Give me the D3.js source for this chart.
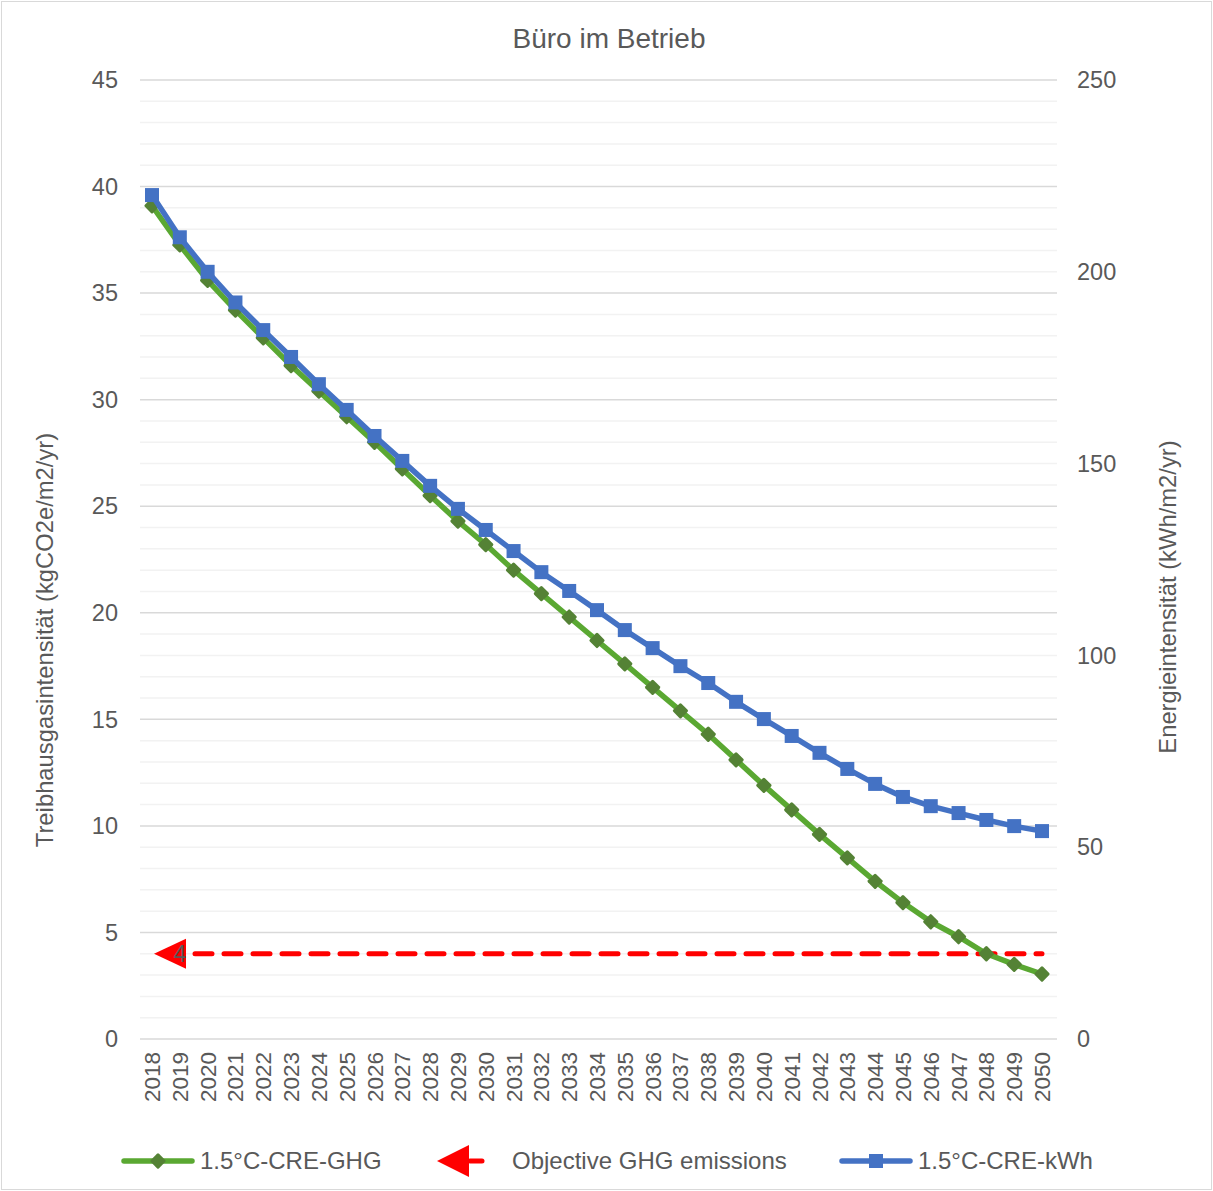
<!DOCTYPE html>
<html><head><meta charset="utf-8">
<script src="https://cdn.jsdelivr.net/npm/d3@7"></script>
<style>body{margin:0;background:#fff;} text{font-family:"Liberation Sans",Arial,sans-serif;fill:#595959;}</style>
</head><body><svg id="c" width="1213" height="1191"></svg>
<script>
const years = d3.range(2018, 2051);
const ghg = [39.1,37.26,35.6,34.2,32.9,31.6,30.4,29.2,28.0,26.75,25.5,24.3,23.2,22.0,20.9,19.8,18.7,17.6,16.5,15.4,14.3,13.1,11.9,10.75,9.6,8.5,7.4,6.4,5.5,4.8,4.0,3.5,3.05];
const kwh = [220,209,200,192,184.8,177.8,170.7,164,157.2,150.7,144.2,138.2,132.7,127.2,121.7,116.8,111.8,106.6,101.9,97.2,92.8,87.9,83.4,79.0,74.6,70.4,66.5,63.1,60.7,58.9,57.1,55.5,54.2];
const objective = 4;
const leftTicks = [0,5,10,15,20,25,30,35,40,45];
const rightTicks = [0,50,100,150,200,250];
const title = "Büro im Betrieb";
const leftLabel = "Treibhausgasintensität (kgCO2e/m2/yr)";
const rightLabel = "Energieintensität (kWh/m2/yr)";
const legendNames = ["1.5°C-CRE-GHG","Objective GHG emissions","1.5°C-CRE-kWh"];

const svg = d3.select("#c");
svg.append("rect").attr("x",1.5).attr("y",1.5).attr("width",1210).attr("height",1188).attr("fill","#fff").attr("stroke","#d9d9d9");
const L=140,R=1057,T=80,B=1039;
const x = d3.scalePoint().domain(years).range([152,1042]);
const yl = d3.scaleLinear().domain([0,45]).range([B,T]);
const yr = d3.scaleLinear().domain([0,250]).range([B,T]);

const g = svg.append("g");
g.selectAll("line.mi").data(d3.range(0,46,1).filter(v=>v%5!==0)).enter().append("line")
 .attr("x1",L).attr("x2",R).attr("y1",d=>yl(d)).attr("y2",d=>yl(d)).attr("stroke","#f2f2f2").attr("stroke-width",1.5);
g.selectAll("line.ma").data(leftTicks).enter().append("line")
 .attr("x1",L).attr("x2",R).attr("y1",d=>yl(d)).attr("y2",d=>yl(d)).attr("stroke","#d9d9d9").attr("stroke-width",1.5);

svg.append("g").selectAll("text").data(leftTicks).enter().append("text")
 .attr("x",118).attr("y",d=>yl(d)).attr("dy","0.35em").attr("text-anchor","end").attr("font-size",23.5).text(d=>d);
svg.append("g").selectAll("text").data(rightTicks).enter().append("text")
 .attr("x",1077).attr("y",d=>yr(d)).attr("dy","0.35em").attr("text-anchor","start").attr("font-size",23.5).text(d=>d);
svg.append("g").selectAll("text").data(years).enter().append("text")
 .attr("transform",d=>`translate(${x(d)+8},1052) rotate(-90)`).attr("text-anchor","end").attr("font-size",22.5).text(d=>d);

svg.append("text").attr("x",609).attr("y",48).attr("text-anchor","middle").attr("font-size",28).text(title);
svg.append("text").attr("transform","translate(53,640) rotate(-90)").attr("text-anchor","middle").attr("font-size",23.8).text(leftLabel);
svg.append("text").attr("transform","translate(1176,597) rotate(-90)").attr("text-anchor","middle").attr("font-size",23.8).text(rightLabel);

svg.append("line").attr("x1",x(2018)+14).attr("x2",x(2050)).attr("y1",yl(objective)).attr("y2",yl(objective))
 .attr("stroke","#ff0000").attr("stroke-width",5).attr("stroke-dasharray","17,12").attr("stroke-linecap","round");
const ax=x(2018)+2, ay=yl(objective);
svg.append("path").attr("d",`M${ax},${ay} L${ax+32},${ay-15} L${ax+32},${ay+15} Z`).attr("fill","#ff0000");
svg.append("text").attr("x",x(2018)+28).attr("y",ay).attr("dy","0.35em").attr("text-anchor","middle").attr("font-size",23).text(objective);

const lineL = d3.line().x((d,i)=>x(years[i])).y(d=>yl(d));
const lineR = d3.line().x((d,i)=>x(years[i])).y(d=>yr(d));
svg.append("path").attr("d",lineL(ghg)).attr("fill","none").attr("stroke","#5aa832").attr("stroke-width",5.5).attr("stroke-linejoin","round");
svg.append("g").selectAll("rect").data(ghg).enter().append("rect")
 .attr("x",-5.8).attr("y",-5.8).attr("width",11.6).attr("height",11.6).attr("rx",1.5)
 .attr("transform",(d,i)=>`translate(${x(years[i])},${yl(d)}) rotate(45)`).attr("fill","#548235");
svg.append("path").attr("d",lineR(kwh)).attr("fill","none").attr("stroke","#4472c4").attr("stroke-width",5.5).attr("stroke-linejoin","round");
svg.append("g").selectAll("rect").data(kwh).enter().append("rect")
 .attr("x",(d,i)=>x(years[i])-7).attr("y",d=>yr(d)-7).attr("width",14).attr("height",14).attr("fill","#4472c4");

const ly=1161;
const lg=svg.append("g");
lg.append("line").attr("x1",124).attr("x2",192).attr("y1",ly).attr("y2",ly).attr("stroke","#5aa832").attr("stroke-width",5.5).attr("stroke-linecap","round");
lg.append("rect").attr("x",-5.8).attr("y",-5.8).attr("width",11.6).attr("height",11.6).attr("rx",1.5).attr("transform",`translate(158,${ly}) rotate(45)`).attr("fill","#548235");
lg.append("text").attr("x",200).attr("y",ly).attr("dy","0.35em").attr("font-size",24).text(legendNames[0]);
lg.append("line").attr("x1",470).attr("x2",482).attr("y1",ly).attr("y2",ly).attr("stroke","#ff0000").attr("stroke-width",5).attr("stroke-linecap","round");
lg.append("path").attr("d",`M437,${ly} L469,${ly-16} L469,${ly+16} Z`).attr("fill","#ff0000");
lg.append("text").attr("x",512).attr("y",ly).attr("dy","0.35em").attr("font-size",24).text(legendNames[1]);
lg.append("line").attr("x1",842).attr("x2",910).attr("y1",ly).attr("y2",ly).attr("stroke","#4472c4").attr("stroke-width",5.5).attr("stroke-linecap","round");
lg.append("rect").attr("x",869).attr("y",ly-7).attr("width",14).attr("height",14).attr("fill","#4472c4");
lg.append("text").attr("x",918).attr("y",ly).attr("dy","0.35em").attr("font-size",24).text(legendNames[2]);
</script></body></html>
